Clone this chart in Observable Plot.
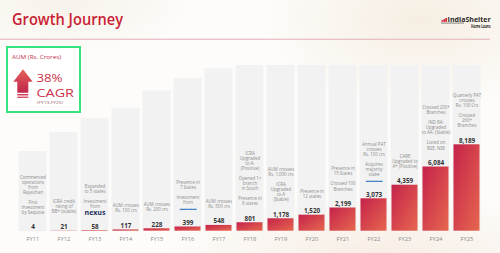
<!DOCTYPE html>
<html>
<head>
<meta charset="utf-8">
<script src="https://cdn.jsdelivr.net/npm/d3@7"></script>
<script src="https://cdn.jsdelivr.net/npm/@observablehq/plot@0.6"></script>
<style>
  html, body { margin: 0; padding: 0; }
  #wrap {
    position: relative; width: 500px; height: 253px; overflow: hidden;
    font-family: "Open Sans", sans-serif;
    background:
      radial-gradient(ellipse 160px 90px at 420px 20px, rgba(240,226,206,0.55), rgba(255,255,255,0) 100%),
      radial-gradient(ellipse 220px 60px at 380px 253px, rgba(243,228,214,0.6), rgba(255,255,255,0) 100%),
      radial-gradient(ellipse 140px 50px at 60px 5px, rgba(244,236,224,0.6), rgba(255,255,255,0) 100%),
      #fdfcfa;
  }
  #chart { position: absolute; left: 0; top: 40px; }
  #overlay { position: absolute; left: 0; top: 0; pointer-events: none; }
</style>
</head>
<body>
<div id="wrap">
  <div id="chart"></div>
  <svg id="overlay" width="500" height="253" viewBox="0 0 500 253" font-family="Open Sans, sans-serif">
    <defs>
      <linearGradient id="arrowGrad" x1="0" y1="0" x2="0" y2="1">
        <stop offset="0" stop-color="#e3615a"/>
        <stop offset="1" stop-color="#c2264a"/>
      </linearGradient>
    </defs>
    <text x="12" y="25" font-size="15.5" font-weight="600" fill="#c91e35" textLength="111" lengthAdjust="spacingAndGlyphs">Growth Journey</text>
    <rect x="0" y="38.6" width="490" height="1.4" fill="#e8c2c7"/>
    <!-- brand -->
    <rect x="441.5" y="20.2" width="1.7" height="1.6" fill="#d3203b"/>
    <rect x="443.4" y="19.2" width="1.7" height="2.6" fill="#d3203b"/>
    <rect x="445.3" y="18.0" width="1.7" height="3.8" fill="#d3203b"/>
    <text x="447.6" y="21.8" font-size="7" font-weight="700" fill="#2b2b2b" textLength="43" lengthAdjust="spacingAndGlyphs">IndiaShelter</text>
    <rect x="441" y="22.7" width="23" height="0.7" fill="#555"/>
    <text x="490.5" y="27.6" text-anchor="end" font-size="4.6" font-weight="700" fill="#2b2b2b" textLength="19.5" lengthAdjust="spacingAndGlyphs">Home Loans</text>
    <!-- CAGR box -->
    <rect x="7" y="47" width="73" height="65" fill="#ffffff" stroke="#34e57f" stroke-width="2"/>
    <text x="12" y="59" font-size="5.4" fill="#c0304a" textLength="49" lengthAdjust="spacingAndGlyphs">AUM (Rs. Crores)</text>
    <polygon points="23,69.3 32.7,81.7 28.3,81.7 28.3,92.7 17.3,92.7 17.3,81.7 13.3,81.7" fill="url(#arrowGrad)"/>
    <rect x="17.3" y="94" width="11" height="1.5" fill="#d4405a"/>
    <rect x="17.3" y="96.6" width="11" height="1.3" fill="#d4405a"/>
    <text x="36.5" y="81.6" font-size="11.2" font-weight="500" fill="#cc2f47" textLength="26" lengthAdjust="spacingAndGlyphs">38%</text>
    <text x="36.5" y="97" font-size="11.2" font-weight="500" fill="#cc2f47" textLength="37.5" lengthAdjust="spacingAndGlyphs">CAGR</text>
    <text x="37" y="104.2" font-size="4.2" fill="#9a5a66" textLength="26" lengthAdjust="spacingAndGlyphs">(FY19-FY25)</text>
  </svg>
</div>
<script>
const years = ["FY11","FY12","FY13","FY14","FY15","FY16","FY17","FY18","FY19","FY20","FY21","FY22","FY23","FY24","FY25"];
const aum = [4, 21, 58, 117, 228, 399, 548, 801, 1178, 1520, 2199, 3073, 4359, 6084, 8189];
// heights of the light backdrop columns (same units as AUM axis)
const panelTops = [7550, 9350, 10700, 11650, 13300, 14450, 15400, 15700, 15700, 15700, 15700, 15700, 15700, 15700, 15700];
const milestones = [
  "Commenced\noperations\nfrom\nRajasthan\n\nFirst\nInvestment\nby Sequoia",
  "ICRA credit\nrating of\nBB+ (stable)",
  "Expanded\nto 5 states\n\nInvestment\nfrom\n",
  "AUM crosses\nRs. 100 crs",
  "AUM crosses\nRs. 200 crs",
  "Presence in\n7 States\n\nInvestment\nfrom\n",
  "AUM crosses\nRs. 500 crs",
  "ICRA\nUpgraded\nto A-\n(Positive)\n\nOpened 1ˢᵗ\nbranch\nin South\n\nPresence in\n8 states",
  "AUM crosses\nRs. 1,000 crs\n\nICRA\nUpgraded\nto A\n(Stable)",
  "Presence in\n12 states",
  "Presence in\n15 States\n\nCrossed 100\nBranches",
  "Annual PAT\ncrosses\nRs. 100 crs\n\nAcquires\nmajority\nstake\n",
  "CARE\nUpgraded to\nA+ (Positive)",
  "Crossed 200+\nBranches\n\nIND RA:\nUpgraded\nto AA- (Stable)\n\nListed on\nBSE, NSE",
  "Quarterly PAT\ncrosses\nRs. 100 Crs\n\nCrossed\n260+\nBranches"
];
const logoYears = ["FY13", "FY16", "FY22"];
const logoLabels = ["nexus", "▬▬▬▬", "▬▬▬▬"];

const rows = years.map((year, i) => ({year, aum: aum[i], panel: panelTops[i], note: milestones[i]}));
const logoRows = logoYears.map((year, i) => ({year, label: logoLabels[i], aum: aum[years.indexOf(year)]}));
const fmt = d3.format(",");

const svg = Plot.plot({
  width: 500,
  height: 213,
  marginLeft: 16.5,
  marginRight: 18.5,
  marginTop: 21.9,
  marginBottom: 22.3,
  style: {background: "transparent", fontFamily: "Open Sans, sans-serif", fontSize: "5.8px", color: "#8a8a8a"},
  x: {domain: years, padding: 0, tickSize: 0, tickPadding: 6, label: null},
  y: {domain: [0, 16000], axis: null},
  marks: [
    Plot.barY(rows, {x: "year", y: "panel", fill: "#f2f2f2", insetLeft: 1.5, insetRight: 1.5}),
    Plot.barY(rows, {x: "year", y: "aum", fill: "url(#barGrad)", insetLeft: 2.5, insetRight: 2.5}),
    Plot.text(rows, {x: "year", y: "aum", text: d => fmt(d.aum), lineAnchor: "bottom", dy: -2,
      fontSize: 6.3, fontWeight: 700, fill: "#333333"}),
    Plot.text(rows, {x: "year", y: "aum", text: "note", lineAnchor: "bottom", dy: -17.5,
      fontSize: 4.4, lineHeight: 1.14, fill: "#8c8c8c"}),
    Plot.text(logoRows.filter(d => d.label === "nexus"), {x: "year", y: "aum", text: "label", lineAnchor: "bottom",
      dy: -15.5, fontSize: 7, fontWeight: 700, fill: "#1f2d5c"}),
    Plot.text(logoRows.filter(d => d.label !== "nexus"), {x: "year", y: "aum", text: "label", lineAnchor: "bottom",
      dy: -17, fontSize: 4.2, fill: "#3f82c8"})
  ]
});

const defs = d3.select(svg).insert("defs", ":first-child");
const g = defs.append("linearGradient").attr("id", "barGrad")
  .attr("x1", 0).attr("y1", 0).attr("x2", 1).attr("y2", 1);
g.append("stop").attr("offset", 0).attr("stop-color", "#c5234a");
g.append("stop").attr("offset", 1).attr("stop-color", "#e6664f");

document.getElementById("chart").appendChild(svg);
</script>
</body>
</html>
